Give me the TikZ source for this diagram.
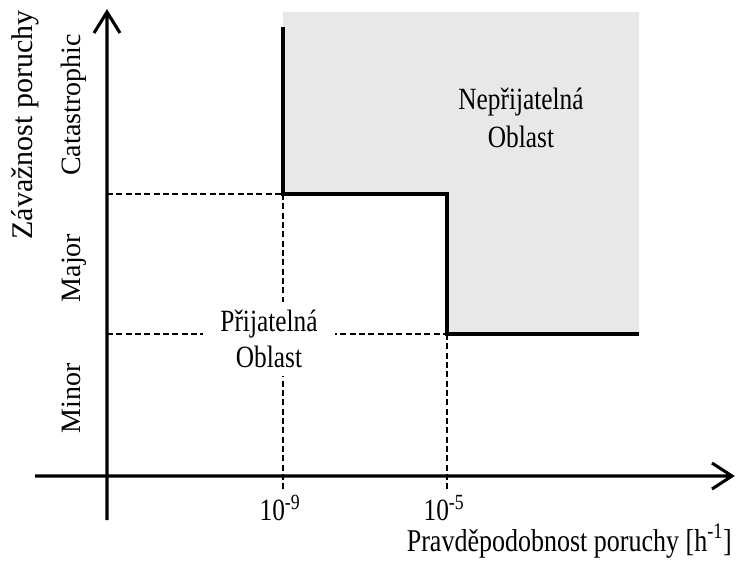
\documentclass[tikz,border=0pt]{standalone}
\usepackage{fontspec}
\setmainfont{Liberation Serif}
\usepackage{graphicx}
\usepackage{xcolor}
\newcommand{\tallText}[1]{\scalebox{1}[1.22]{#1}}

\begin{document}
\begin{tikzpicture}[x=0.75pt,y=0.75pt,yscale=-1,xscale=1]
\path[use as bounding box] (0,0) rectangle (737,560);

%Shape: Polygon [id:unacceptable]
\draw  [draw opacity=0][fill={rgb, 255:red, 232; green, 232; blue, 232 }  ,fill opacity=1 ] (283,12) -- (639,12) -- (639,334) -- (447,334) -- (447,194) -- (283,194) -- cycle ;
%Straight Lines [id:dashCatMaj]
\draw  [line width=0.8pt][dash pattern={on 4.5pt off 2.5pt}]  (107,194) -- (283,194) ;
%Straight Lines [id:dashMajMin]
\draw  [line width=0.8pt][dash pattern={on 4.5pt off 2.5pt}]  (107,334) -- (447,334) ;
%Straight Lines [id:dashLow]
\draw  [line width=0.8pt][dash pattern={on 4.5pt off 2.5pt}]  (283,194) -- (283,490) ;
%Straight Lines [id:dashHigh]
\draw  [line width=0.8pt][dash pattern={on 4.5pt off 2.5pt}]  (447,334) -- (447,490) ;
%Straight Lines [id:borderline]
\draw  [line width=2.5pt]  (283,27) -- (283,194) -- (447,194) -- (447,334) -- (639,334) ;
%Shape: Axis 2D [id:axes]
\draw  [line width=2.3pt] (35,476) -- (732,476)(107,520) -- (107,12) (712,463) -- (732,476) -- (712,489) (94,33) -- (107,12) -- (120,33)  ;

% Text Node
\draw (269,339) node [fill=white][inner xsep=13pt][inner ysep=6pt]  [font=\fontsize{19}{27}\selectfont] [align=center] (lblAccept) {\tallText{Přijatelná}\\\tallText{Oblast}};
% Text Node
\draw (521,118) node [inner sep=0.75pt]  [font=\fontsize{19}{28}\selectfont] [align=center] (lblReject) {\tallText{Nepřijatelná}\\\tallText{Oblast}};
% Text Node
\draw (280,520) node [anchor=base][inner sep=0.75pt]  [font=\fontsize{19}{22}\selectfont] (lblLow) {\tallText{10\textsuperscript{-9}}};
% Text Node
\draw (444,520) node [anchor=base][inner sep=0.75pt]  [font=\fontsize{19}{22}\selectfont] (lblHigh) {\tallText{10\textsuperscript{-5}}};
% Text Node
\draw (733,551) node [anchor=base east][inner sep=0.75pt]  [font=\fontsize{19.5}{23}\selectfont] (lblProb) {\tallText{Pravděpodobnost poruchy [h\textsuperscript{-1}]}};
% Text Node
\draw (32,125) node [anchor=base][rotate=90][inner sep=0.75pt]  [font=\fontsize{22.5}{26}\selectfont] (lblSev) {Závažnost poruchy};
% Text Node
\draw (80,105) node [anchor=base][rotate=90][inner sep=0.75pt]  [font=\fontsize{21}{25}\selectfont] (lblCat) {Catastrophic};
% Text Node
\draw (80,268) node [anchor=base][rotate=90][inner sep=0.75pt]  [font=\fontsize{21}{25}\selectfont] (lblMajor) {Major};
% Text Node
\draw (80,398) node [anchor=base][rotate=90][inner sep=0.75pt]  [font=\fontsize{21}{25}\selectfont] (lblMinor) {Minor};

\end{tikzpicture}
\end{document}
